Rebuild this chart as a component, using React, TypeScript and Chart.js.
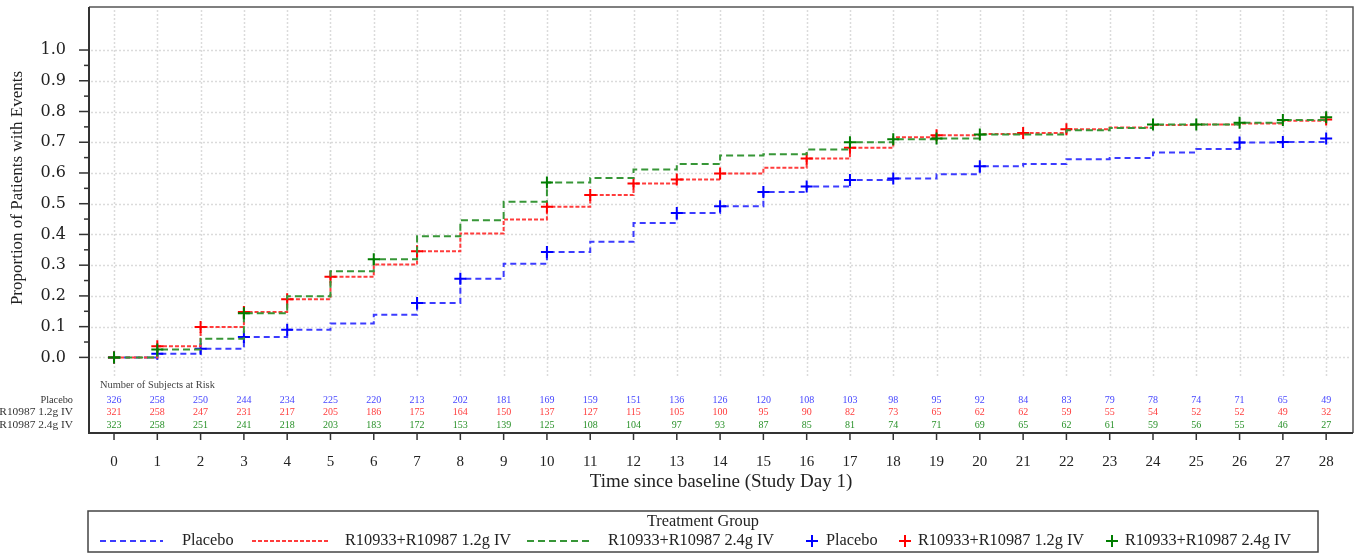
import React, { useEffect, useRef } from "react";
import { Chart, registerables } from "chart.js";

Chart.register(...registerables);

// ---------------- data ----------------
const DAYS = [0, 1, 2, 3, 4, 5, 6, 7, 8, 9, 10, 11, 12, 13, 14, 15, 16, 17, 18, 19, 20, 21, 22, 23, 24, 25, 26, 27, 28];

const GROUP_NAMES = ["Placebo", "R10933+R10987 1.2g IV", "R10933+R10987 2.4g IV"];

const PLACEBO = [0, 0.012, 0.028, 0.066, 0.09, 0.11, 0.139, 0.177, 0.256, 0.305, 0.343, 0.376, 0.437, 0.47, 0.492, 0.538, 0.556, 0.577, 0.582, 0.596, 0.622, 0.629, 0.645, 0.649, 0.667, 0.678, 0.699, 0.701, 0.712];
const LOW_DOSE = [0, 0.036, 0.099, 0.148, 0.189, 0.262, 0.302, 0.345, 0.403, 0.449, 0.49, 0.528, 0.566, 0.579, 0.598, 0.617, 0.647, 0.682, 0.716, 0.723, 0.727, 0.73, 0.742, 0.748, 0.756, 0.758, 0.761, 0.77, 0.774];
const HIGH_DOSE = [0, 0.026, 0.061, 0.144, 0.199, 0.28, 0.319, 0.394, 0.446, 0.506, 0.569, 0.584, 0.611, 0.629, 0.657, 0.661, 0.676, 0.7, 0.71, 0.712, 0.725, 0.725, 0.739, 0.746, 0.758, 0.758, 0.763, 0.772, 0.781];

// days with censor markers (+)
const PLACEBO_MARKS = [0, 1, 2, 3, 4, 7, 8, 10, 13, 14, 15, 16, 17, 18, 20, 26, 27, 28];
const LOW_MARKS = [0, 1, 2, 3, 4, 5, 7, 10, 11, 12, 13, 14, 16, 17, 19, 21, 22, 28];
const HIGH_MARKS = [0, 1, 3, 6, 10, 17, 18, 19, 20, 24, 25, 26, 27, 28];

// number of subjects at risk
const RISK_PLACEBO = [326, 258, 250, 244, 234, 225, 220, 213, 202, 181, 169, 159, 151, 136, 126, 120, 108, 103, 98, 95, 92, 84, 83, 79, 78, 74, 71, 65, 49];
const RISK_LOW = [321, 258, 247, 231, 217, 205, 186, 175, 164, 150, 137, 127, 115, 105, 100, 95, 90, 82, 73, 65, 62, 62, 59, 55, 54, 52, 52, 49, 32];
const RISK_HIGH = [323, 258, 251, 241, 218, 203, 183, 172, 153, 139, 125, 108, 104, 97, 93, 87, 85, 81, 74, 71, 69, 65, 62, 61, 59, 56, 55, 46, 27];

const Y_TICKS = [0, 0.1, 0.2, 0.3, 0.4, 0.5, 0.6, 0.7, 0.8, 0.9, 1.0];
const Y_MINOR = [0.05, 0.15, 0.25, 0.35, 0.45, 0.55, 0.65, 0.75, 0.85, 0.95];

const Y_TITLE = "Proportion of Patients with Events";
const X_TITLE = "Time since baseline (Study Day 1)";
const RISK_TITLE = "Number of Subjects at Risk";
const LEGEND_TITLE = "Treatment Group";

// ---------------- styles ----------------
const SERIF = '"Liberation Serif", "Times New Roman", serif';
const DVSERIF = '"DejaVu Serif", serif';
const LINE_COLORS = ["rgb(60,60,255)", "rgb(255,60,60)", "rgb(55,150,55)"];
const MARK_COLORS = ["rgb(0,0,255)", "rgb(255,0,0)", "rgb(0,125,0)"];
const RISK_COLORS = ["rgb(70,70,255)", "rgb(255,60,60)", "rgb(40,145,40)"];
const DASHES = [[6, 4], [4, 2], [7, 4]];
const ROW_LABEL_SIZES = [10.3, 11.4, 11.4];

const customPlugin = {
  id: "kmCustom",
  beforeDatasetsDraw(chart: any) {
    const { ctx, chartArea: ca, scales } = chart;
    const x = scales.x;
    const y = scales.y;
    ctx.save();
    ctx.strokeStyle = "rgba(210,210,210,0.8)";
    ctx.lineWidth = 1.5;
    ctx.setLineDash([2, 2]);
    for (const d of DAYS) {
      const px = Math.round(x.getPixelForValue(d)) + 0.5;
      ctx.beginPath();
      ctx.moveTo(px, ca.top + 3);
      ctx.lineTo(px, 376);
      ctx.stroke();
    }
    for (const t of Y_TICKS) {
      const py = Math.round(y.getPixelForValue(t)) + 0.5;
      ctx.beginPath();
      ctx.moveTo(ca.left + 2, py);
      ctx.lineTo(ca.right - 2, py);
      ctx.stroke();
    }
    ctx.restore();
  },
  afterDraw(chart: any) {
    const { ctx, chartArea: ca, scales } = chart;
    const x = scales.x;
    const y = scales.y;
    ctx.save();
    ctx.setLineDash([]);

    // frame
    ctx.strokeStyle = "#555";
    ctx.lineWidth = 1.5;
    ctx.beginPath();
    ctx.moveTo(ca.left, ca.top);
    ctx.lineTo(ca.right, ca.top);
    ctx.lineTo(ca.right, ca.bottom);
    ctx.stroke();
    ctx.strokeStyle = "#333";
    ctx.lineWidth = 2;
    ctx.beginPath();
    ctx.moveTo(ca.left, ca.top);
    ctx.lineTo(ca.left, ca.bottom);
    ctx.lineTo(ca.right, ca.bottom);
    ctx.stroke();

    // tick marks
    ctx.lineWidth = 1.5;
    for (const d of DAYS) {
      const px = x.getPixelForValue(d);
      ctx.beginPath();
      ctx.moveTo(px, ca.bottom);
      ctx.lineTo(px, ca.bottom + 7);
      ctx.stroke();
    }
    for (const t of Y_TICKS) {
      const py = y.getPixelForValue(t);
      ctx.beginPath();
      ctx.moveTo(ca.left - 10, py);
      ctx.lineTo(ca.left, py);
      ctx.stroke();
    }
    for (const t of Y_MINOR) {
      const py = y.getPixelForValue(t);
      ctx.beginPath();
      ctx.moveTo(ca.left - 5, py);
      ctx.lineTo(ca.left, py);
      ctx.stroke();
    }

    // at-risk table
    ctx.textBaseline = "middle";
    ctx.fillStyle = "#444";
    ctx.font = `10.4px ${SERIF}`;
    ctx.textAlign = "left";
    ctx.fillText(RISK_TITLE, 100, 385);
    const rows = [RISK_PLACEBO, RISK_LOW, RISK_HIGH];
    const rowY = [400, 412.5, 425];
    rows.forEach((row, i) => {
      ctx.font = `${ROW_LABEL_SIZES[i]}px ${SERIF}`;
      ctx.fillStyle = "#333";
      ctx.textAlign = "right";
      ctx.fillText(GROUP_NAMES[i], 73, rowY[i]);
      ctx.font = `10px ${SERIF}`;
      ctx.fillStyle = RISK_COLORS[i];
      ctx.textAlign = "center";
      row.forEach((n, j) => {
        ctx.fillText(String(n), x.getPixelForValue(DAYS[j]), rowY[i]);
      });
    });

    // axis titles
    ctx.fillStyle = "#222";
    ctx.textAlign = "center";
    ctx.font = `19px ${SERIF}`;
    ctx.fillText(X_TITLE, (ca.left + ca.right) / 2, 482);
    ctx.save();
    ctx.translate(18, 188);
    ctx.rotate(-Math.PI / 2);
    ctx.font = `17px ${SERIF}`;
    ctx.fillText(Y_TITLE, 0, 0);
    ctx.restore();

    // legend
    ctx.strokeStyle = "#444";
    ctx.lineWidth = 1.5;
    ctx.strokeRect(88, 511, 1230, 41);
    ctx.font = `16.3px ${SERIF}`;
    ctx.fillStyle = "#222";
    ctx.textAlign = "center";
    ctx.fillText(LEGEND_TITLE, 703, 522);
    const ly = 541;
    const samples = [
      [100, 163, 182],
      [252, 330, 345],
      [527, 590, 608],
    ];
    samples.forEach(([x0, x1, tx], i) => {
      ctx.strokeStyle = LINE_COLORS[i];
      ctx.lineWidth = 2;
      ctx.setLineDash(DASHES[i]);
      ctx.beginPath();
      ctx.moveTo(x0, ly);
      ctx.lineTo(x1, ly);
      ctx.stroke();
      ctx.setLineDash([]);
      ctx.fillStyle = "#222";
      ctx.textAlign = "left";
      ctx.fillText(GROUP_NAMES[i], tx, ly);
    });
    const crosses = [
      [812, 826],
      [905, 918],
      [1112, 1125],
    ];
    crosses.forEach(([cx, tx], i) => {
      ctx.strokeStyle = MARK_COLORS[i];
      ctx.lineWidth = 2;
      ctx.beginPath();
      ctx.moveTo(cx - 6, ly);
      ctx.lineTo(cx + 6, ly);
      ctx.moveTo(cx, ly - 6);
      ctx.lineTo(cx, ly + 6);
      ctx.stroke();
      ctx.fillStyle = "#222";
      ctx.textAlign = "left";
      ctx.fillText(GROUP_NAMES[i], tx, ly);
    });

    ctx.restore();
  },
};

export default function App() {
  const canvasRef = useRef<HTMLCanvasElement | null>(null);

  useEffect(() => {
    if (!canvasRef.current) return;
    const series = [PLACEBO, LOW_DOSE, HIGH_DOSE];
    const marks = [PLACEBO_MARKS, LOW_MARKS, HIGH_MARKS];
    const chart = new Chart(canvasRef.current, {
      type: "line",
      data: {
        datasets: series.map((vals, i) => ({
          label: GROUP_NAMES[i],
          data: DAYS.map((d, j) => ({ x: d, y: vals[j] })),
          borderColor: LINE_COLORS[i],
          borderWidth: 2,
          borderDash: DASHES[i],
          stepped: "before",
          fill: false,
          pointStyle: "cross",
          pointRadius: DAYS.map((d) => (marks[i].includes(d) ? 6 : 0)),
          pointHoverRadius: 0,
          pointBorderColor: MARK_COLORS[i],
          pointBackgroundColor: MARK_COLORS[i],
          pointBorderWidth: 2,
          order: 2 - i,
        })),
      } as any,
      options: {
        responsive: true,
        maintainAspectRatio: false,
        animation: false,
        events: [],
        layout: { autoPadding: false, padding: { left: 0, top: 7, right: 3, bottom: 0 } },
        plugins: {
          legend: { display: false },
          tooltip: { enabled: false },
        },
        scales: {
          x: {
            type: "linear",
            min: -0.578,
            max: 28.62,
            afterBuildTicks: (s: any) => {
              s.ticks = DAYS.map((v) => ({ value: v }));
            },
            afterFit: (s: any) => {
              s.height = 121;
              s.paddingLeft = 0;
              s.paddingRight = 0;
              s.paddingTop = 0;
              s.paddingBottom = 0;
            },
            grid: { display: false },
            border: { display: false },
            ticks: {
              autoSkip: false,
              maxRotation: 0,
              padding: 12,
              color: "#222",
              font: { family: SERIF, size: 15 },
              callback: (v: any) => String(v),
            },
          },
          y: {
            type: "linear",
            min: -0.246,
            max: 1.14,
            afterBuildTicks: (s: any) => {
              s.ticks = Y_TICKS.map((v) => ({ value: v }));
            },
            afterFit: (s: any) => {
              s.width = 89;
              s.paddingLeft = 0;
              s.paddingRight = 0;
              s.paddingTop = 0;
              s.paddingBottom = 0;
            },
            grid: { display: false },
            border: { display: false },
            ticks: {
              autoSkip: false,
              padding: 15,
              color: "#222",
              font: { family: DVSERIF, size: 16 },
              callback: (v: any) => Number(v).toFixed(1),
            },
          },
        },
      } as any,
      plugins: [customPlugin],
    });
    return () => chart.destroy();
  }, []);

  return (
    <div style={{ position: "absolute", left: 0, top: 0, width: 1356, height: 554, background: "#fff" }}>
      <canvas ref={canvasRef} />
    </div>
  );
}
